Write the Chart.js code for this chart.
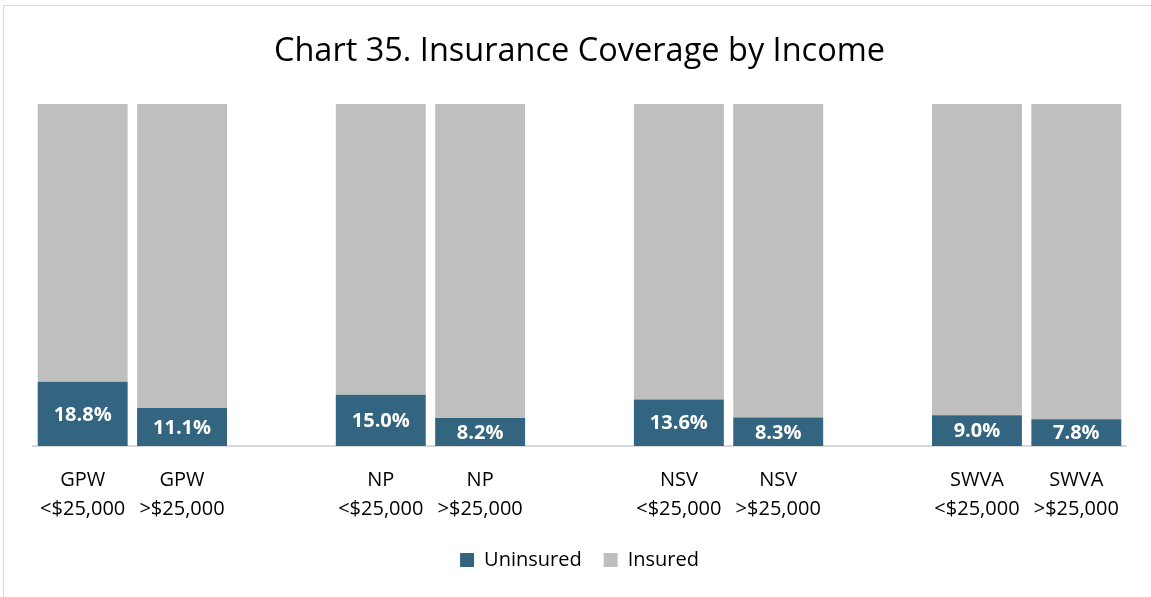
<!DOCTYPE html>
<html>
<head>
<meta charset="utf-8">
<script src="https://cdn.jsdelivr.net/npm/chart.js@4/dist/chart.umd.min.js"></script>
<style>
  html, body { margin: 0; padding: 0; background: #fff; overflow: hidden; }
  #frame { position: absolute; left: 3px; top: 5px; width: 1300px; height: 800px; border: 1px solid #d9d9d9; }
  #wrap { position: absolute; left: 0; top: 0; width: 1151px; height: 597px; }
</style>
</head>
<body>
<div id="frame"></div>
<div id="wrap"><canvas id="insChart"></canvas></div>
<script>
// DATA

const regions = ["GPW", "GPW", "", "NP", "NP", "", "NSV", "NSV", "", "SWVA", "SWVA"];

const incomes = ["<$25,000", ">$25,000", "", "<$25,000", ">$25,000", "", "<$25,000", ">$25,000", "", "<$25,000", ">$25,000"];

const uninsured = [18.8, 11.1, null, 15.0, 8.2, null, 13.6, 8.3, null, 9.0, 7.8];

const insured = [81.2, 88.9, null, 85.0, 91.8, null, 86.4, 91.7, null, 91.0, 92.2];

const labels = regions.map((r, i) => r ? [r, incomes[i]] : "");

const FONT = "'Open Sans', 'DejaVu Sans', sans-serif";


// VALUE LABELS INSIDE THE UNINSURED SEGMENTS

const segmentLabels = {
    id: "segmentLabels",
    afterDatasetsDraw(chart) {
        const ctx = chart.ctx;
        const meta = chart.getDatasetMeta(0);
        ctx.save();
        ctx.fillStyle = "#ffffff";
        ctx.font = "bold 20px " + FONT;
        ctx.textAlign = "center";
        ctx.textBaseline = "middle";
        meta.data.forEach((bar, i) => {
            const v = uninsured[i];
            if (v == null) return;
            const mid = (bar.y + bar.base) / 2;
            ctx.fillText(v.toFixed(1) + "%", bar.x, mid + 1);
        });
        ctx.restore();
    }
};


// GRAPH

new Chart(document.getElementById("insChart"), {

    type: "bar",

    data: {
        labels: labels,
        datasets: [
            {
                label: "Uninsured",
                data: uninsured,
                backgroundColor: "#336580"
            },
            {
                label: "Insured",
                data: insured,
                backgroundColor: "#bfbfbf"
            }
        ]
    },

    options: {
        responsive: true,
        maintainAspectRatio: false,
        animation: false,
        datasets: {
            bar: { categoryPercentage: 1, barPercentage: 0.905 }
        },
        layout: {
            padding: { left: 33, right: 25, top: 0, bottom: 17 }
        },
        plugins: {
            title: {
                display: true,
                text: "Chart 35. Insurance Coverage by Income",
                color: "#000000",
                font: { family: FONT, size: 32.5, weight: "normal" },
                padding: { top: 32.7, bottom: 32.3 }
            },
            legend: {
                position: "bottom",
                labels: {
                    color: "#000000",
                    font: { family: FONT, size: 20 },
                    boxWidth: 14,
                    boxHeight: 14,
                    padding: 22
                }
            },
            tooltip: { enabled: false }
        },
        scales: {
            x: {
                stacked: true,
                grid: { display: false },
                border: { display: true, color: "#d9d9d9", width: 2 },
                ticks: {
                    color: "#000000",
                    font: { family: FONT, size: 20, lineHeight: 1.45 },
                    maxRotation: 0,
                    autoSkip: false,
                    padding: 12
                },
                afterFit(scale) {
                    scale.height = 82;
                }
            },
            y: {
                stacked: true,
                display: false,
                min: 0,
                max: 100
            }
        }
    },

    plugins: [segmentLabels]
});
</script>
</body>
</html>
